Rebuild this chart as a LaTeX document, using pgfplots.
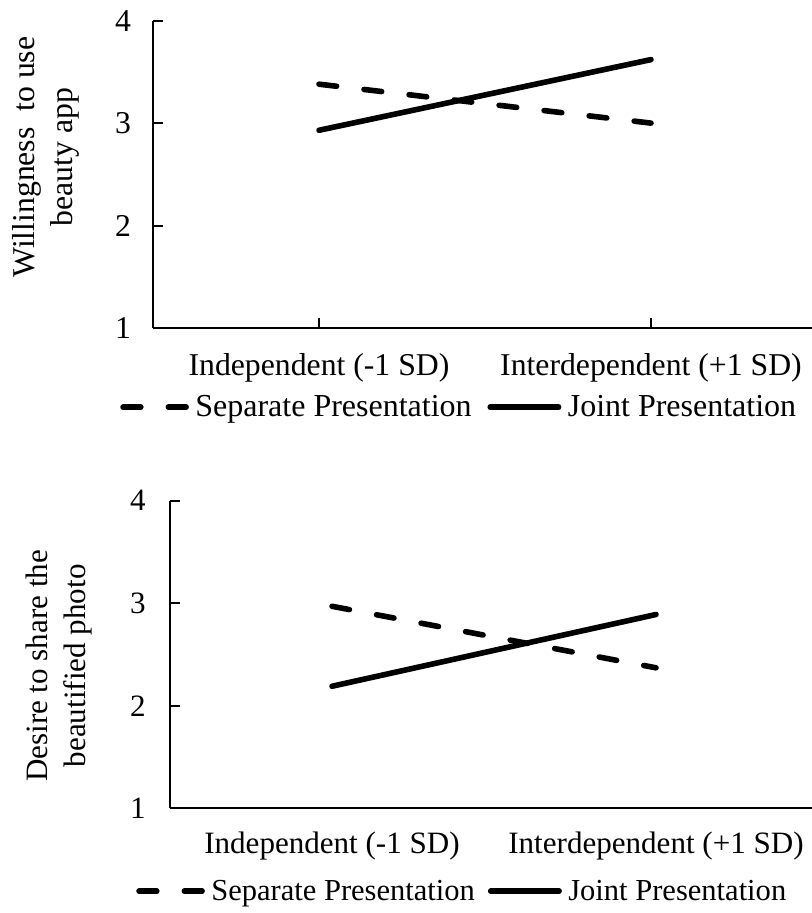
\documentclass[border=0pt]{standalone}
\usepackage{fontspec}
\setmainfont{Liberation Serif}
\usepackage{pgfplots}
\pgfplotsset{compat=1.18}
\newcommand\ftop{\fontsize{23.8}{28.5}\selectfont}
\newcommand\fbot{\fontsize{23.3}{28.5}\selectfont}
\newcommand\fltop{\fontsize{24}{28.5}\selectfont}
\newcommand\flbot{\fontsize{22.9}{28.5}\selectfont}
\pgfplotsset{
  mybase/.style={
    scale only axis, clip=false,
    xmin=-0.5, xmax=1.5, ymin=1, ymax=4,
    axis lines=left, axis line style={-, line width=1.5pt, black},
    tick align=inside, major tick length=7.5pt,
    tick style={black, line width=1.5pt},
    xtick={0,1}, ytick={1,2,3,4},
    xticklabels={Independent (-1 SD), Interdependent (+1 SD)},
    /pgf/number format/assume math mode=true,
    yticklabel style={anchor=east},
    xticklabel style={anchor=base},
    ylabel style={at={(axis description cs:0,0.5)}, anchor=center, rotate=0, align=center},
    legend columns=2,
    legend image code/.code={\draw[#1] (0pt,7.1pt) -- (47.3pt,7.1pt);},
    legend style={draw=none, fill=none, inner sep=0pt, outer sep=0pt, anchor=west,
      nodes={inner sep=0pt}, cells={anchor=base west}},
  },
  sepline/.style={black, line width=4.2pt, line cap=round, dash pattern=on 13.3pt off 20.7pt},
  joiline/.style={black, line width=4.2pt, line cap=round,
    legend image code/.code={\draw[##1] (0pt,7.1pt) -- (51.3pt,7.1pt);}},
}
\begin{document}
\begin{tikzpicture}
\useasboundingbox (0pt,0pt) rectangle (608.25pt,-684.75pt);
\begin{axis}[mybase,
  at={(114.75pt,-246pt)}, anchor=south west,
  width=498pt, height=230.5pt,
  tick label style={font=\ftop}, label style={font=\ftop},
  xticklabel style={yshift=-35.25pt},
  yticklabel style={xshift=-13pt},
  ylabel={Willingness\ \ to use\\beauty app},
  ylabel style={at={(axis description cs:-0.161,0.556)}},
  legend style={font=\fltop, at={(axis description cs:-0.0493,-0.2573)},
    /tikz/every odd column/.style={column sep=4.8pt},
    /tikz/every even column/.style={column sep=11.8pt}},
]
\addplot[sepline] coordinates {(0,3.38) (1,3.00)};
\addlegendentry{Separate Presentation}
\addplot[joiline] coordinates {(0,2.93) (1,3.62)};
\addlegendentry{Joint Presentation}
\end{axis}
\begin{axis}[mybase,
  at={(127.5pt,-606.2pt)}, anchor=south west,
  width=486pt, height=230.7pt,
  xtick style={draw=none},
  tick label style={font=\fbot}, label style={font=\fbot},
  xticklabel style={yshift=-33.75pt},
  yticklabel style={xshift=-14.7pt},
  ylabel={Desire to share the\\beautified photo},
  ylabel style={at={(axis description cs:-0.171,0.463)}},
  legend style={font=\flbot, at={(axis description cs:-0.0521,-0.2709)},
    /tikz/every odd column/.style={column sep=4.8pt},
    /tikz/every even column/.style={column sep=9.7pt}},
]
\addplot[sepline] coordinates {(0,2.97) (1,2.37)};
\addlegendentry{Separate Presentation}
\addplot[joiline] coordinates {(0,2.19) (1,2.89)};
\addlegendentry{Joint Presentation}
\end{axis}
\end{tikzpicture}
\end{document}
